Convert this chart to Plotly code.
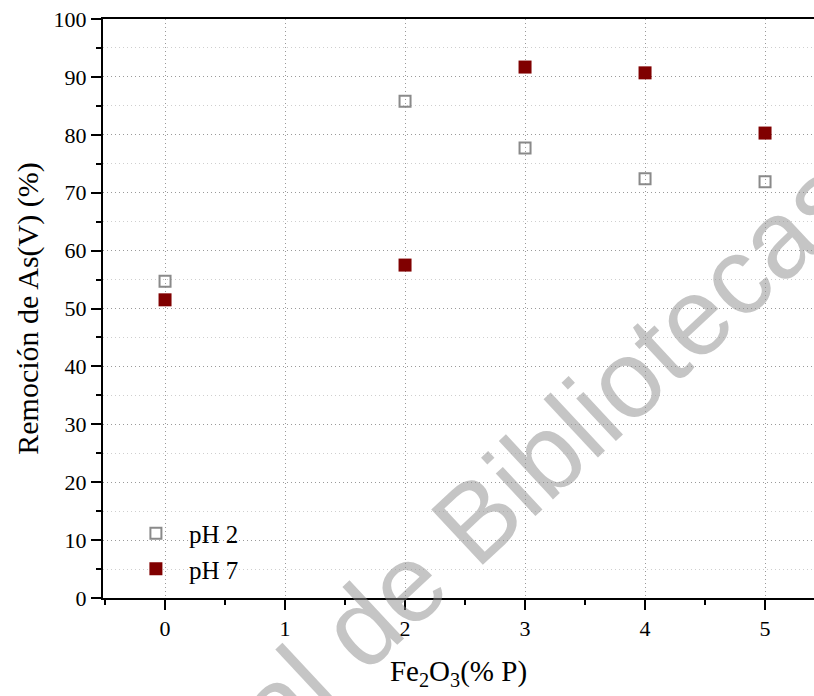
import plotly.graph_objects as go

# Data
fe2o3 = [0, 2, 3, 4, 5]
ph2 = [54.7, 85.8, 77.7, 72.4, 71.9]
ph7 = [51.5, 57.5, 91.7, 90.7, 80.3]
series_names = ["pH 2", "pH 7"]
x_title = "Fe<sub>2</sub>O<sub>3</sub>(% P)"
y_title = "Remoción de As(V) (%)"
watermark = "General de Bibliotecas"

FONT = "Liberation Serif"
TICKFONT = "Times New Roman"

fig = go.Figure()
fig.add_trace(go.Scatter(
    x=fe2o3, y=ph2, mode="markers", name=series_names[0],
    marker=dict(symbol="square-open", size=11, color="#8a8a8a",
                line=dict(width=2, color="#8a8a8a")),
))
fig.add_trace(go.Scatter(
    x=fe2o3, y=ph7, mode="markers", name=series_names[1],
    marker=dict(symbol="square", size=13, color="#800000",
                line=dict(width=0)),
))

fig.add_annotation(
    text=watermark, xref="paper", yref="paper", x=0.466, y=0.07,
    xanchor="center", yanchor="middle", showarrow=False, textangle=-43,
    font=dict(family="Liberation Sans", size=110,
              color="rgba(140,140,140,0.5)"),
)

dot = "1px,3px"
fig.update_layout(
    width=814, height=696,
    margin=dict(l=103, r=0, t=19, b=98),
    paper_bgcolor="white", plot_bgcolor="white",
    font=dict(family=FONT, size=22, color="black"),
    showlegend=True,
    legend=dict(x=0.028, y=0.151, xanchor="left", yanchor="top",
                bgcolor="rgba(0,0,0,0)", font=dict(family=FONT, size=25, color="black"),
                tracegroupgap=0, itemsizing="trace", itemwidth=56),
    xaxis=dict(
        range=[-0.517, 5.408], tickmode="linear", tick0=0, dtick=1,
        showline=True, linecolor="black", linewidth=2, mirror=True,
        ticks="outside", ticklen=10, tickwidth=2, tickcolor="black",
        showgrid=True, gridcolor="#9a9a9a", gridwidth=1, griddash=dot,
        zeroline=False,
        minor=dict(dtick=0.5, tick0=0, ticks="outside", ticklen=5,
                   tickwidth=2, tickcolor="black", showgrid=False),
        title=dict(text=x_title, font=dict(family=FONT, size=29, color="black"), standoff=20),
        tickfont=dict(family=TICKFONT, size=22, color="black"),
    ),
    yaxis=dict(
        range=[0, 100], tickmode="linear", tick0=0, dtick=10,
        showline=True, linecolor="black", linewidth=2,
        ticks="outside", ticklen=10, tickwidth=2, tickcolor="black",
        showgrid=True, gridcolor="#9a9a9a", gridwidth=1, griddash=dot,
        zeroline=False,
        minor=dict(dtick=5, tick0=0, ticks="outside", ticklen=5,
                   tickwidth=2, tickcolor="black", showgrid=True,
                   gridcolor="#cfcfcf", gridwidth=1, griddash=dot),
        title=dict(text=y_title, font=dict(family=FONT, size=30, color="black"), standoff=6),
        tickfont=dict(family=TICKFONT, size=22, color="black"),
    ),
)

fig.write_html("out.html")
